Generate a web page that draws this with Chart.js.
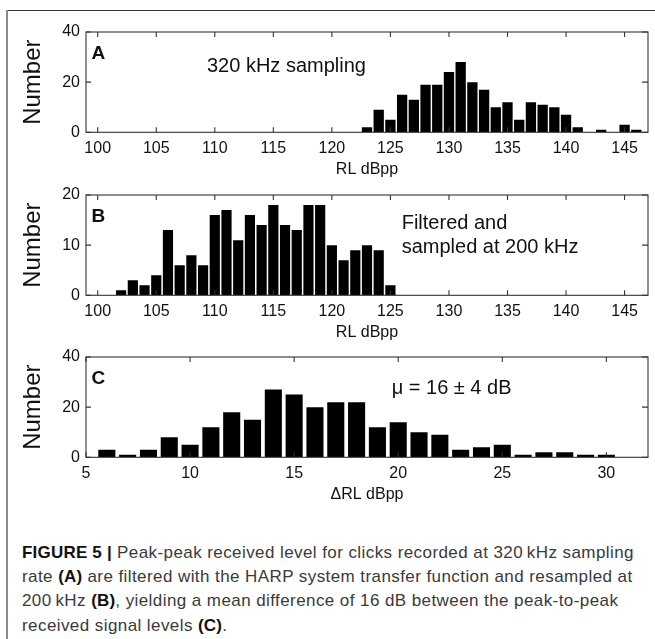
<!DOCTYPE html>
<html>
<head>
<meta charset="utf-8">
<script src="https://cdn.jsdelivr.net/npm/chart.js@4.4.1/dist/chart.umd.min.js"></script>
<style>
  html, body { margin: 0; padding: 0; background: #fff; }
  #page { position: relative; width: 655px; height: 639px; overflow: hidden; background: #fff; }
  #frameTop { position: absolute; left: 6px; top: 10px; width: 660px; height: 0; border-top: 1px solid #333; }
  #frameLeft { position: absolute; left: 6px; top: 10px; width: 0; height: 640px; border-left: 2px solid #8a8a8a; }
  canvas { position: absolute; left: 0; }
  #caption {
    position: absolute; left: 22px; top: 541px;
    font-family: "Liberation Sans", Arial, sans-serif; font-size: 17px; line-height: 24.2px;
    letter-spacing: 0.42px; color: #3a3a3a; white-space: nowrap;
  }
  #caption b { color: #111; letter-spacing: 0.2px; }
</style>
</head>
<body>
<div id="page">
  <div id="frameTop"></div>
  <div id="frameLeft"></div>
  <canvas id="chartA" width="655" height="185" style="top:0px"></canvas>
  <canvas id="chartB" width="655" height="185" style="top:163px"></canvas>
  <canvas id="chartC" width="655" height="185" style="top:325px"></canvas>
  <div id="caption"><b>FIGURE 5 |</b> Peak-peak received level for clicks recorded at 320&thinsp;kHz sampling<br>rate <b>(A)</b> are filtered with the HARP system transfer function and resampled at<br>200&thinsp;kHz <b>(B)</b>, yielding a mean difference of 16 dB between the peak-to-peak<br>received signal levels <b>(C)</b>.</div>
</div>
<script>
// panel A: 320 kHz sampling
const binsA = [123, 124, 125, 126, 127, 128, 129, 130, 131, 132, 133, 134, 135, 136, 137, 138, 139, 140, 141, 142, 143, 144, 145, 146];
const countsA = [2, 9, 5, 15, 13, 19, 19, 24, 28, 20, 17, 10, 12, 5, 12, 11, 10, 7, 2, 0, 1, 0, 3, 1];

// panel B: filtered and resampled at 200 kHz
const binsB = [102, 103, 104, 105, 106, 107, 108, 109, 110, 111, 112, 113, 114, 115, 116, 117, 118, 119, 120, 121, 122, 123, 124, 125];
const countsB = [1, 3, 2, 4, 13, 6, 8, 6, 16, 17, 11, 16, 14, 18, 14, 13, 18, 18, 10, 7, 9, 10, 9, 2];

// panel C: difference
const binsC = [6, 7, 8, 9, 10, 11, 12, 13, 14, 15, 16, 17, 18, 19, 20, 21, 22, 23, 24, 25, 26, 27, 28, 29, 30];
const countsC = [3, 1, 3, 8, 5, 12, 18, 15, 27, 25, 20, 22, 22, 12, 14, 10, 9, 3, 4, 5, 1, 2, 2, 1, 1];

// tick labels
const xTicksAB = [100, 105, 110, 115, 120, 125, 130, 135, 140, 145];
const xTicksC = [5, 10, 15, 20, 25, 30];
const yTicksA = [0, 20, 40];
const yTicksB = [0, 10, 20];
const yTicksC = [0, 20, 40];

const FONT = '"Liberation Sans", Arial, sans-serif';

// box around the plot with inward ticks on all four sides
const boxPlugin = {
  id: 'box',
  afterDraw(chart) {
    const ctx = chart.ctx;
    const a = chart.chartArea;
    const xs = chart.scales.x, ys = chart.scales.y;
    ctx.save();
    ctx.strokeStyle = '#333';
    ctx.lineWidth = 1.1;
    ctx.strokeRect(a.left, a.top, a.right - a.left, a.bottom - a.top);
    ctx.beginPath();
    xs.ticks.forEach(t => {
      const px = xs.getPixelForValue(t.value);
      ctx.moveTo(px, a.bottom); ctx.lineTo(px, a.bottom - 5);
      ctx.moveTo(px, a.top); ctx.lineTo(px, a.top + 5);
    });
    ys.ticks.forEach(t => {
      const py = ys.getPixelForValue(t.value);
      ctx.moveTo(a.left, py); ctx.lineTo(a.left + 5, py);
      ctx.moveTo(a.right, py); ctx.lineTo(a.right - 6, py);
    });
    ctx.stroke();
    ctx.restore();
  }
};

// panel letter and annotation text
const notePlugin = {
  id: 'note',
  afterDraw(chart, args, opts) {
    const ctx = chart.ctx;
    const a = chart.chartArea;
    ctx.save();
    ctx.fillStyle = '#111';
    ctx.textBaseline = 'alphabetic';
    ctx.font = 'bold 19px ' + FONT;
    ctx.fillText(opts.letter, a.left + 5.5, a.top + 26.5);
    ctx.font = '20px ' + FONT;
    opts.lines.forEach((s, i) => {
      ctx.fillText(s, a.left + opts.dx, a.top + opts.dy + i * 24);
    });
    ctx.restore();
  }
};

function makePanel(id, bins, counts, cfg) {
  return new Chart(document.getElementById(id), {
    type: 'bar',
    data: {
      datasets: [{
        data: bins.map((b, i) => ({ x: b, y: counts[i] })),
        backgroundColor: '#000',
        borderWidth: 0,
        barPercentage: cfg.barPct,
        categoryPercentage: 1
      }]
    },
    options: {
      responsive: false,
      animation: false,
      devicePixelRatio: 1,
      layout: { padding: { top: 32, right: 7, left: 0, bottom: 0 } },
      plugins: {
        legend: { display: false },
        tooltip: { enabled: false },
        note: cfg.note
      },
      scales: {
        x: {
          type: 'linear',
          min: cfg.xMin,
          max: cfg.xMax,
          offset: false,
          grid: { display: false, drawTicks: false },
          border: { display: false },
          afterBuildTicks: s => { s.ticks = cfg.xTicks.map(v => ({ value: v })); },
          afterFit: s => { s.height = 52.7; },
          ticks: {
            autoSkip: false, maxRotation: 0, padding: 7,
            color: '#111', font: { family: FONT, size: 16 },
            callback: v => String(v)
          },
          title: {
            display: true, text: cfg.xTitle, color: '#111',
            font: { family: FONT, size: 16 }, padding: { top: 0, bottom: 6 }
          }
        },
        y: {
          min: cfg.yMin,
          max: cfg.yMax,
          grid: { display: false, drawTicks: false },
          border: { display: false },
          afterBuildTicks: s => { s.ticks = cfg.yTicks.map(v => ({ value: v })); },
          afterFit: s => { s.width = 86; },
          ticks: {
            padding: 6, color: '#111', font: { family: FONT, size: 16 },
            callback: v => String(v)
          },
          title: {
            display: true, text: 'Number', color: '#111',
            font: { family: FONT, size: 24 }, padding: { top: 19, bottom: 0 }
          }
        }
      }
    },
    plugins: [boxPlugin, notePlugin]
  });
}

makePanel('chartA', binsA, countsA, {
  xMin: 99, xMax: 147, xTicks: xTicksAB, yMin: 0, yMax: 40, yTicks: yTicksA,
  xTitle: 'RL dBpp', barPct: 0.88,
  note: { letter: 'A', lines: ['320 kHz sampling'], dx: 121, dy: 39.7 }
});

makePanel('chartB', binsB, countsB, {
  xMin: 99, xMax: 147, xTicks: xTicksAB, yMin: 0, yMax: 20, yTicks: yTicksB,
  xTitle: 'RL dBpp', barPct: 0.87,
  note: { letter: 'B', lines: ['Filtered and', 'sampled at 200 kHz'], dx: 315.7, dy: 34.3 }
});

makePanel('chartC', binsC, countsC, {
  xMin: 5, xMax: 32, xTicks: xTicksC, yMin: 0, yMax: 40, yTicks: yTicksC,
  xTitle: '\u0394RL dBpp', barPct: 0.82,
  note: { letter: 'C', lines: ['\u03bc = 16 \u00b1 4 dB'], dx: 305.7, dy: 37 }
});
</script>
</body>
</html>
